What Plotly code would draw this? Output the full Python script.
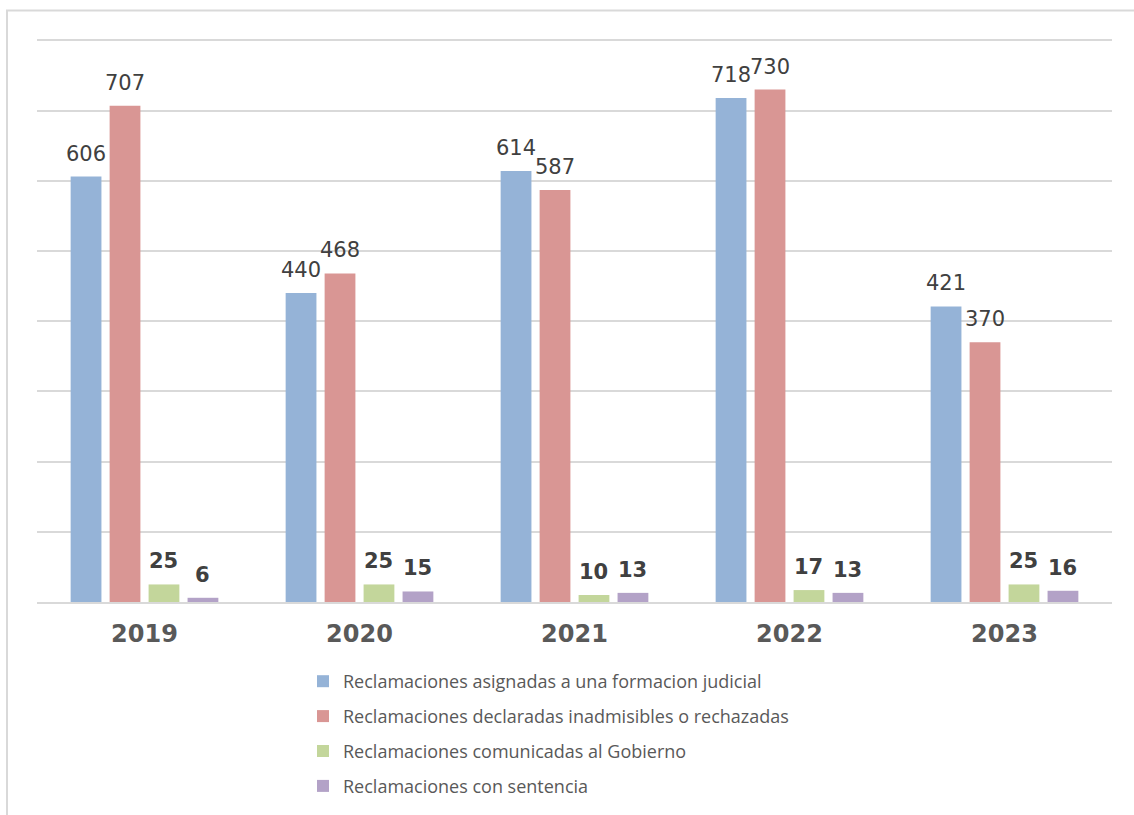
import plotly.graph_objects as go

years = ["2019", "2020", "2021", "2022", "2023"]
series_names = [
    "Reclamaciones asignadas a una formacion judicial",
    "Reclamaciones declaradas inadmisibles o rechazadas",
    "Reclamaciones comunicadas al Gobierno",
    "Reclamaciones con sentencia",
]
asignadas = [606, 440, 614, 718, 421]
inadmisibles = [707, 468, 587, 730, 370]
comunicadas = [25, 25, 10, 17, 25]
sentencia = [6, 15, 13, 13, 16]

colors = ["#95B3D7", "#D99694", "#C3D69B", "#B3A2C7"]
all_values = [asignadas, inadmisibles, comunicadas, sentencia]
bold = [False, False, True, True]

W, H = 1134, 815
Y_MAX = 802
L, R, B = 37, 22, 213
T = round(H - B - 562 * Y_MAX / 800, 1)
pw = W - L - R
ph = H - T - B
BARGAP, BARGROUPGAP = 0.275, 0.21
n_series = len(all_values)
slot = pw / len(years) * (1 - BARGAP) / n_series

fig = go.Figure()
annotations = []
for i, (name, vals) in enumerate(zip(series_names, all_values)):
    fig.add_trace(go.Bar(
        x=years, y=vals, name=name,
        marker=dict(color=colors[i], line=dict(width=0)),
        legendgroup=f"g{i}",
    ))
    for j, v in enumerate(vals):
        annotations.append(dict(
            x=j, y=v, xref="x", yref="y", text=str(v), showarrow=False,
            xanchor="center", yanchor="bottom",
            xshift=(i - (n_series - 1) / 2) * slot, yshift=9,
            font=dict(family="DejaVu Sans", size=21, color="#404040",
                      weight="bold" if bold[i] else "normal"),
        ))

def px_x(p):
    return (p - L) / pw

def px_y(p):
    return (H - B - p) / ph

fig.update_layout(
    width=W, height=H,
    margin=dict(l=L, r=R, t=T, b=B, autoexpand=False),
    paper_bgcolor="white", plot_bgcolor="white",
    barmode="group", bargap=BARGAP, bargroupgap=BARGROUPGAP,
    showlegend=True,
    annotations=annotations,
    legend=dict(
        orientation="v", xref="container", yref="container",
        x=303 / W, y=1 - 663 / H, xanchor="left", yanchor="top",
        font=dict(family="Open Sans", size=18, color="#595959"),
        tracegroupgap=8.5, traceorder="grouped",
        bgcolor="rgba(0,0,0,0)",
    ),
    xaxis=dict(
        type="category", categoryorder="array", categoryarray=years,
        range=[-0.5, len(years) - 0.5],
        showgrid=False, showline=True, linecolor="#d9d9d9", linewidth=2,
        ticks="", tickfont=dict(family="DejaVu Sans", size=24, color="#595959", weight="bold"),
        ticklabelstandoff=9, automargin=False,
    ),
    yaxis=dict(
        range=[0, Y_MAX], dtick=100, showgrid=True, gridcolor="#d9d9d9", gridwidth=2,
        showticklabels=False, zeroline=False, showline=False, automargin=False,
    ),
    shapes=[dict(
        type="rect", xref="paper", yref="paper",
        x0=px_x(7), x1=px_x(1140), y0=px_y(822), y1=px_y(10),
        line=dict(color="#d9d9d9", width=2), fillcolor="rgba(0,0,0,0)", layer="below",
    )],
)

fig.write_html("out.html", config={"displayModeBar": False},
               post_script="document.body.style.margin='0';document.body.style.overflow='hidden';")
